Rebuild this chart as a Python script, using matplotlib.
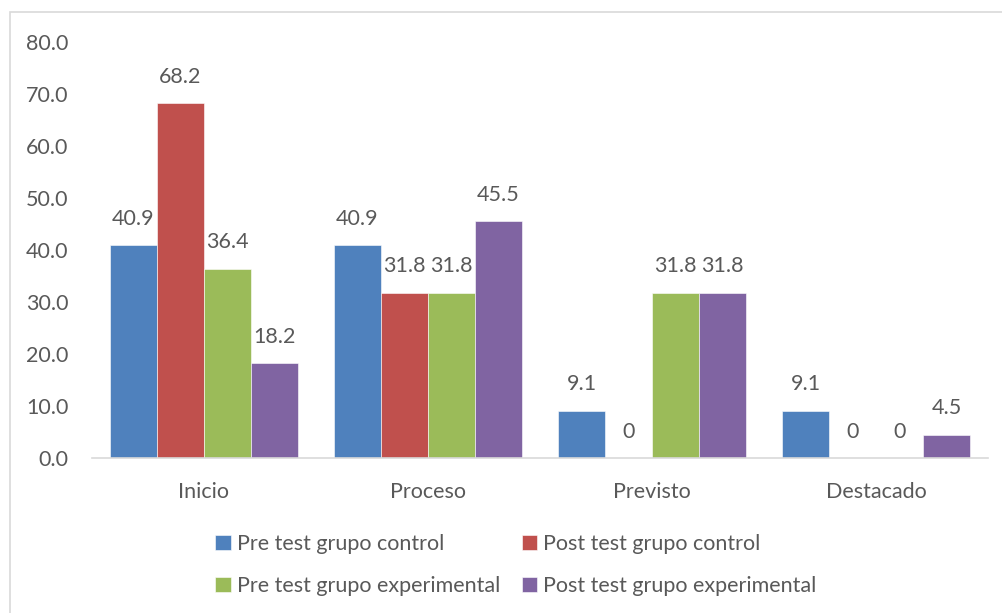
import numpy as np
import matplotlib
matplotlib.use('Agg')
import matplotlib.pyplot as plt
from matplotlib.patches import Rectangle

# Data
categories = ['Inicio', 'Proceso', 'Previsto', 'Destacado']
series_names = ['Pre test grupo control', 'Post test grupo control',
                'Pre test grupo experimental', 'Post test grupo experimental']
pre_control = [40.9, 40.9, 9.1, 9.1]
post_control = [68.2, 31.8, 0, 0]
pre_experimental = [36.4, 31.8, 31.8, 0]
post_experimental = [18.2, 45.5, 31.8, 4.5]
y_ticks = [0, 10, 20, 30, 40, 50, 60, 70, 80]

colors = ['#4F81BD', '#C0504D', '#9BBB59', '#8064A2']
text_color = '#595959'

plt.rcParams['font.family'] = ['Lato', 'DejaVu Sans']

fig = plt.figure(figsize=(10.03, 6.13), dpi=100)
ax = fig.add_axes([92 / 1003, 1 - 458 / 613, 896 / 1003, 416 / 613])

# Light frame around the chart area
fig.patches.append(Rectangle((10 / 1003, -0.1), 1.2, 1 - 12 / 613 + 0.1,
                             transform=fig.transFigure, fill=False,
                             edgecolor='#d9d9d9', linewidth=1.2))

x = np.arange(len(categories))
width = 0.21
all_series = [pre_control, post_control, pre_experimental, post_experimental]

handles = []
for i, (vals, name) in enumerate(zip(all_series, series_names)):
    pos = x + (i - 1.5) * width
    h = ax.bar(pos, vals, width, color=colors[i], label=name,
               edgecolor='white', linewidth=0.4)
    handles.append(h)
    for xp, v in zip(pos, vals):
        label = '0' if v == 0 else f'{v:.1f}'
        ax.annotate(label, (xp, v), xytext=(0, 19), textcoords='offset points',
                    ha='center', va='center', fontsize=15.5, color=text_color)

ax.set_xlim(-0.5, 3.5)
ax.set_ylim(0, 80)
ax.set_yticks(y_ticks)
ax.set_yticklabels([f'{t:.1f}' for t in y_ticks])
ax.set_xticks(x)
ax.set_xticklabels(categories)
ax.tick_params(axis='both', length=0, labelsize=15.5, colors=text_color)
ax.tick_params(axis='y', pad=17)
ax.tick_params(axis='x', pad=17)

for side in ['top', 'right', 'left']:
    ax.spines[side].set_visible(False)
ax.spines['bottom'].set_color('#d9d9d9')
ax.spines['bottom'].set_linewidth(1.2)

# legend fills column-wise, so reorder to get row-wise order
order = [0, 2, 1, 3]
leg = fig.legend([handles[k] for k in order], [series_names[k] for k in order],
                 loc='center', bbox_to_anchor=(516 / 1003, 1 - 565 / 613),
                 ncol=2, frameon=False, fontsize=15.5, handlelength=0.7,
                 handleheight=0.7, handletextpad=0.3, columnspacing=1.0,
                 labelspacing=1.05)
for t in leg.get_texts():
    t.set_color(text_color)

plt.savefig('out.png', dpi=100)
